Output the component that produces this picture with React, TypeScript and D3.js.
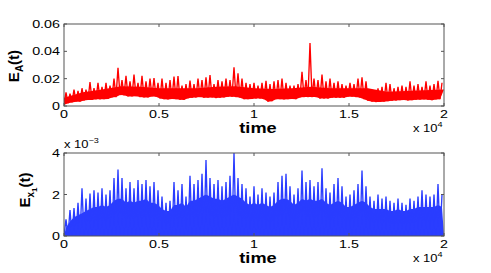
import * as d3 from "d3";

// time axis
const tMax = 20000;
const xTicks = [0, 5000, 10000, 15000, 20000];
const xTickLabels = ["0", "0.5", "1", "1.5", "2"];

// E_A(t) axis
const eaTicks = [0, 0.02, 0.04, 0.06];
const eaTickLabels = ["0", "0.02", "0.04", "0.06"];
// E_x1(t) axis
const exTicks = [0, 0.002, 0.004];
const exTickLabels = ["0", "2", "4"];

// peaks and troughs of E_A(t) per time bin (95 bins over 0..2e4), units of 1e-3
const eaHigh = [
  10, 9, 12, 11, 13, 12, 17.5, 13, 17, 14, 17, 15, 20, 28, 19, 22, 18, 23, 17, 22,
  18, 20, 20.5, 17, 20, 17, 19, 21.5, 22, 15, 16, 18.6, 16, 20, 19, 21, 22.7, 16, 19, 18,
  20, 19, 28.3, 24, 20, 17, 16, 17, 15, 17, 18.5, 16, 18, 19, 20, 17, 15, 15, 16, 25,
  19, 46, 20, 19, 23, 18, 20, 17, 18, 16, 15, 17, 16, 20, 21, 18, 11, 10, 13, 14,
  17, 16, 13, 14, 15, 14, 18, 15, 16, 14, 18, 15, 16, 18.5, 17,
];
const eaLow = [
  0.7, 2, 2.6, 3.2, 3.2, 4, 4.4, 4.4, 4.9, 4.9, 5, 5.2, 6.2, 6.5, 8, 7.8, 7, 7, 7.2, 6.5,
  6.2, 6.2, 7, 6.8, 5.5, 5, 4.8, 5.2, 5, 4.5, 4.4, 5.6, 6, 6.2, 6.5, 6, 6, 6.2, 5.8, 6,
  6.3, 6.7, 6.7, 6.5, 6, 5, 5, 5.2, 5.4, 5.4, 5, 3.2, 3.5, 5, 5, 4.8, 5, 5.2, 5, 6.2,
  6.5, 6.5, 6.5, 6.5, 5.4, 5.4, 5.4, 6, 6, 6, 6, 6.8, 6.8, 6.5, 6, 5, 3.8, 3.2, 2.9, 3,
  3.2, 3.5, 3.8, 4, 4.2, 4.4, 4, 4.2, 4.5, 4.6, 4.8, 4.5, 4.2, 4.8, 5,
];
// top of the dense red band, every 1000 time units, units of 1e-3
const eaCoreTimes = d3.range(0, 20001, 1000);
const eaCore = [6, 10, 12, 14.5, 14, 13, 13, 13, 14, 14.5, 13, 12.5, 13, 14, 13, 13, 13, 10.5, 11, 11.5, 12];

// peaks of E_x1(t) per time bin and top of the dense blue fill, units of 1e-3
const exHigh = [
  0.8, 1.25, 1.35, 1.6, 2.3, 1.8, 2.05, 2.2, 2.1, 2.3, 2.0, 2.2, 2.8, 3.2, 2.8, 2.3, 2.6, 2.3, 2.7, 2.5,
  2.7, 2.4, 2.6, 2.2, 1.9, 1.6, 1.7, 2.6, 2.2, 2.5, 1.9, 2.9, 2.5, 2.7, 3.0, 3.66, 2.8, 2.5, 2.7, 2.4,
  2.6, 2.9, 4.0, 2.8, 2.5, 2.3, 1.9, 2.4, 2.0, 2.3, 2.1, 1.9, 2.1, 2.6, 2.9, 3.0, 2.4, 2.0, 2.3, 3.15,
  2.6, 2.7, 2.4, 2.6, 3.26, 2.3, 2.1, 2.5, 2.8, 2.4, 1.9, 2.0, 2.2, 2.5, 3.15, 2.4, 1.9, 1.7, 2.0, 1.8,
  1.9, 1.7, 1.6, 1.8, 1.6, 1.5, 1.8, 1.7, 1.9, 2.2, 2.0, 1.9, 2.0, 2.5, 2.0,
];
const exCore = [
  0.4, 0.7, 0.9, 1.0, 1.1, 1.2, 1.3, 1.4, 1.4, 1.5, 1.4, 1.5, 1.7, 1.8, 1.8, 1.6, 1.7, 1.6, 1.7, 1.7,
  1.8, 1.6, 1.6, 1.5, 1.3, 1.2, 1.2, 1.5, 1.5, 1.6, 1.4, 1.7, 1.7, 1.8, 1.9, 2.0, 1.9, 1.8, 1.8, 1.7,
  1.8, 1.9, 2.0, 1.9, 1.8, 1.6, 1.5, 1.6, 1.5, 1.6, 1.5, 1.4, 1.5, 1.7, 1.8, 1.8, 1.7, 1.5, 1.6, 1.8,
  1.7, 1.8, 1.7, 1.7, 1.8, 1.6, 1.5, 1.6, 1.7, 1.6, 1.4, 1.4, 1.5, 1.6, 1.7, 1.6, 1.4, 1.3, 1.3, 1.3,
  1.3, 1.2, 1.2, 1.3, 1.2, 1.2, 1.3, 1.3, 1.4, 1.4, 1.4, 1.4, 1.4, 1.5, 1.4,
];

const left = 64;
const right = 444;
const stretch = 1.3; // the figure was exported horizontally stretched
const font = "'Liberation Sans', Arial, Helvetica, sans-serif";
const axisColor = "#555";

// trough at the start of each bin, peak in its middle
function zigzag(lo: number[], hi: number[]): [number, number][] {
  const w = tMax / hi.length;
  const pts: [number, number][] = [];
  hi.forEach((h, i) => {
    pts.push([i * w, lo[i]]);
    pts.push([(i + 0.5) * w, h]);
  });
  return pts;
}

function SText({x, y, size, anchor, bold, children}: any) {
  return (
    <text transform={`translate(${x},${y}) scale(${stretch},1)`} fontSize={size}
          textAnchor={anchor || "start"} fontWeight={bold ? "bold" : "normal"} fontFamily={font}>
      {children}
    </text>
  );
}

function Panel({top, bottom, yMax, ticks, tickLabels, band, lo, hi, color, id}: any) {
  const x = d3.scaleLinear().domain([0, tMax]).range([left, right]);
  const y = d3.scaleLinear().domain([0, yMax]).range([bottom, top]);
  const line = d3.line<[number, number]>().x(d => x(d[0])).y(d => y(d[1] * 1e-3));
  return (
    <g>
      <defs>
        <clipPath id={id}>
          <rect x={left} y={top} width={right - left} height={bottom - top}/>
        </clipPath>
      </defs>
      <g clipPath={`url(#${id})`}>
        <path d={(line(band) || "") + "Z"} fill={color}/>
        <path d={line(zigzag(lo, hi)) || ""} fill="none" stroke={color} strokeWidth={1.35}/>
      </g>
      <rect x={left} y={top} width={right - left} height={bottom - top} fill="none" stroke={axisColor} strokeWidth={1}/>
      {xTicks.map((t, i) => (
        <g key={"x" + i}>
          <line x1={x(t)} x2={x(t)} y1={bottom} y2={bottom - 3} stroke={axisColor}/>
          <line x1={x(t)} x2={x(t)} y1={top} y2={top + 3} stroke={axisColor}/>
          <SText x={x(t)} y={bottom + 12} size={11} anchor="middle">{xTickLabels[i]}</SText>
        </g>
      ))}
      {ticks.map((v: number, i: number) => (
        <g key={"y" + i}>
          <line x1={left} x2={left + 3} y1={y(v)} y2={y(v)} stroke={axisColor}/>
          <line x1={right} x2={right - 3} y1={y(v)} y2={y(v)} stroke={axisColor}/>
          <SText x={left - 4} y={y(v) + 4} size={11} anchor="end">{tickLabels[i]}</SText>
        </g>
      ))}
      <SText x={258} y={bottom + 27} size={14} anchor="middle" bold>time</SText>
      <SText x={413} y={bottom + 26} size={10}>
        x 10<tspan fontSize={7} dy={-5}>4</tspan>
      </SText>
    </g>
  );
}

export default function App() {
  const n = eaHigh.length;
  const w = tMax / n;
  // dense red band: core top forward, troughs backward
  const eaBand: [number, number][] = [
    ...eaCoreTimes.map((t, i) => [t, eaCore[i]] as [number, number]),
    ...eaLow.map((v, i) => [i * w, v] as [number, number]).reverse(),
  ];
  // dense blue fill: from zero up to the core
  const exBand: [number, number][] = [
    [0, 0],
    ...exCore.map((v, i) => [(i + 0.5) * w, v] as [number, number]),
    [tMax, 0],
  ];
  const exZero = exHigh.map(() => 0);
  return (
    <svg width={491} height={273} style={{position: "absolute", left: 0, top: 0, background: "#fff"}}>
      <Panel id="clipA" top={24} bottom={106} yMax={0.06} ticks={eaTicks} tickLabels={eaTickLabels}
             band={eaBand} lo={eaLow} hi={eaHigh} color="#ff0000"/>
      <Panel id="clipX" top={153} bottom={236} yMax={0.004} ticks={exTicks} tickLabels={exTickLabels}
             band={exBand} lo={exZero} hi={exHigh} color="#2a3dff"/>
      <text transform="translate(19,66) rotate(-90)" fontSize={15} fontWeight="bold" fontFamily={font} textAnchor="middle">
        E<tspan fontSize={10} dy={4}>A</tspan><tspan dy={-4}>(t)</tspan>
      </text>
      <text transform="translate(30,190) rotate(-90)" fontSize={15} fontWeight="bold" fontFamily={font} textAnchor="middle">
        E<tspan fontSize={10} dy={4}>x</tspan><tspan fontSize={8} dy={3}>1</tspan><tspan dy={-7}>(t)</tspan>
      </text>
      <SText x={64} y={148} size={10}>
        x 10<tspan fontSize={7} dy={-5}>−3</tspan>
      </SText>
    </svg>
  );
}
